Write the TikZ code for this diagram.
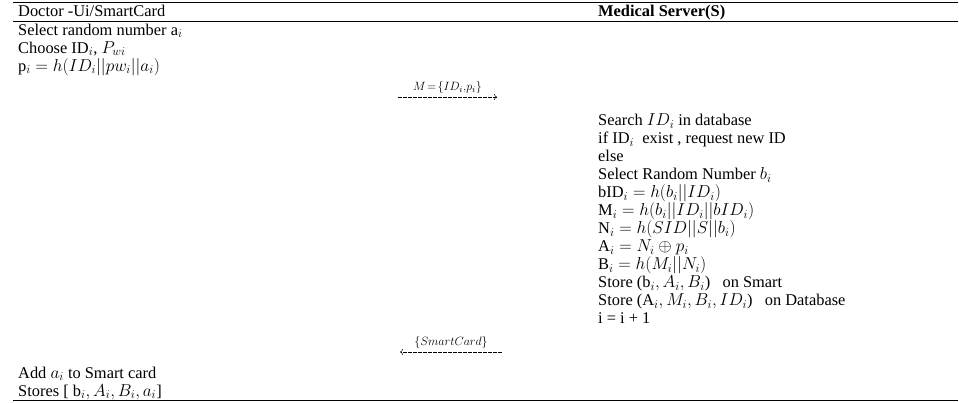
\documentclass[tikz,border=0pt]{standalone}
\usepackage{fontspec}
\setmainfont{Liberation Serif}
\usetikzlibrary{arrows.meta}
\begin{document}
\begin{tikzpicture}[x=1pt,y=-1pt,
  txt/.style={anchor=west,inner sep=0pt,text height=9pt,text depth=2.5pt,font=\fontsize{16.4}{19}\selectfont},
  lbl/.style={inner sep=1pt,text height=8pt,text depth=2pt,font=\fontsize{12.5}{14}\selectfont},
  rule/.style={line width=1pt},
  msg/.style={line width=0.5pt,dash pattern=on 4pt off 1pt,-{To[length=3pt,width=6pt]}}]
\useasboundingbox (0,0) rectangle (959,403);
\coordinate (t1) at (13,3); \coordinate (t2) at (958,3);
\coordinate (h1) at (13,22); \coordinate (h2) at (958,22);
\coordinate (b1) at (13,401); \coordinate (b2) at (958,401);
\draw[rule] (t1) -- (t2);
\draw[rule] (h1) -- (h2);
\draw[rule] (b1) -- (b2);
\node[txt] (hd) at (18,13) {Doctor -Ui/SmartCard};
\node[txt] (hs) at (598,13) {\textbf{Medical Server(S)}};
\node[txt] (l1) at (18,32) {Select random number a$_i$};
\node[txt] (l2) at (18,50) {Choose ID$_i$, $P_{wi}$};
\node[txt] (l3) at (18,68) {p$_i = h(ID_i||pw_i||a_i)$};
\coordinate (m1s) at (398,97); \coordinate (m1e) at (497,97);
\draw[msg] (m1s) -- (m1e) node[lbl,midway,above=3pt] (m1l) {$M\!=\!\{ID_i,\!p_i\}$};
\node[txt] (r1) at (598,122.5) {Search $ID_i$ in database};
\node[txt] (r2) at (598,140.5) {if ID$_i$\ \ exist , request new ID};
\node[txt] (r3) at (598,158.5) {else};
\node[txt] (r4) at (598,176.5) {Select Random Number $b_i$};
\node[txt] (r5) at (598,194.5) {bID$_i = h(b_i||ID_i)$};
\node[txt] (r6) at (598,212.5) {M$_i = h(b_i||ID_i||bID_i)$};
\node[txt] (r7) at (598,230.5) {N$_i = h(SID||S||b_i)$};
\node[txt] (r8) at (598,248.5) {A$_i = N_i \oplus p_i$};
\node[txt] (r9) at (598,266.5) {B$_i = h(M_i||N_i)$};
\node[txt] (r10) at (598,284.5) {Store (b$_i, A_i, B_i$)\ \ \ on Smart};
\node[txt] (r11) at (598,302.5) {Store (A$_i, M_i, B_i, ID_i$)\ \ \ on Database};
\node[txt] (r12) at (598,320.5) {i = i + 1};
\coordinate (m2s) at (502,352); \coordinate (m2e) at (400,352);
\draw[msg] (m2s) -- (m2e) node[lbl,midway,above=3pt] (m2l) {$\{SmartCard\}$};
\node[txt] (l4) at (18,375) {Add $a_i$ to Smart card};
\node[txt] (l5) at (18,393) {Stores [ b$_i, A_i, B_i, a_i$]};
\end{tikzpicture}
\end{document}
